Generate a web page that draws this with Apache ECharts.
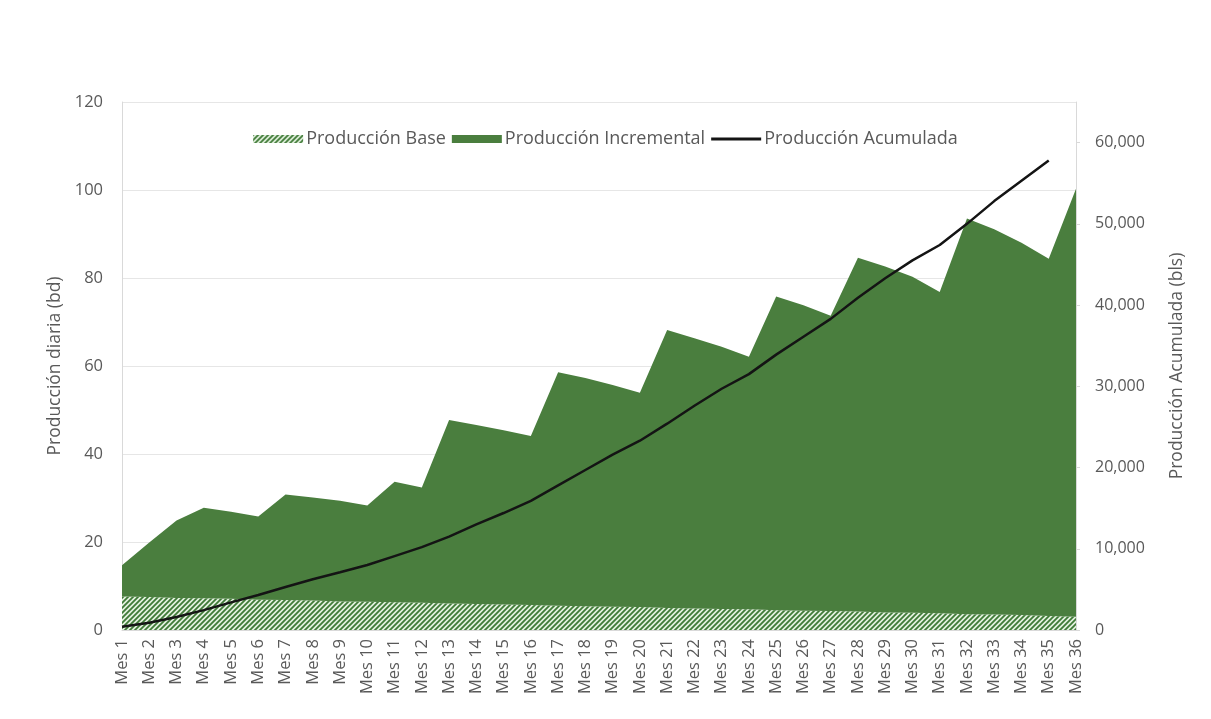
<!DOCTYPE html>
<html>
<head>
<meta charset="utf-8">
<title>Producción</title>
<script src="https://cdn.jsdelivr.net/npm/echarts@6/dist/echarts.min.js"></script>
<style>
  html, body { margin: 0; padding: 0; background: #ffffff; }
  #chart { width: 1211px; height: 719px; }
</style>
</head>
<body>
<div id="chart"></div>
<script>
// Month labels
const months = [];
for (let i = 1; i <= 36; i++) months.push('Mes ' + i);

// Base production (bd)
const baseProd = [7.6, 7.5, 7.3, 7.2, 7.1, 6.9, 6.8, 6.7, 6.5, 6.4, 6.3, 6.2,
  6.0, 5.9, 5.8, 5.7, 5.5, 5.4, 5.3, 5.2, 5.0, 4.9, 4.8, 4.7,
  4.5, 4.4, 4.3, 4.2, 4.0, 3.9, 3.8, 3.6, 3.5, 3.4, 3.2, 3.0];

// Incremental production (bd), stacked on top of the base
const incrProd = [7.1, 12.4, 17.6, 20.6, 19.8, 18.9, 24.0, 23.4, 22.9, 21.9, 27.4, 26.2,
  41.7, 40.7, 39.6, 38.4, 53.1, 51.9, 50.4, 48.7, 63.2, 61.4, 59.6, 57.4,
  71.3, 69.4, 67.1, 80.4, 78.6, 76.4, 73.0, 89.9, 87.6, 84.6, 81.2, 97.3];

// Cumulative production (bls), months 1 to 35
const cumProd = [400, 900, 1600, 2450, 3400, 4300, 5300, 6250, 7100, 8000, 9100, 10200,
  11500, 13000, 14400, 15900, 17800, 19700, 21600, 23300, 25400, 27600, 29700, 31500,
  33900, 36100, 38300, 40900, 43300, 45500, 47400, 50000, 52800, 55300, 57800];

// Diagonal hatch tile for the base area
function hatchPattern() {
  const c = document.createElement('canvas');
  const s = 5;
  c.width = s; c.height = s;
  const g = c.getContext('2d');
  g.fillStyle = '#e4f1df';
  g.fillRect(0, 0, s, s);
  g.strokeStyle = '#3f7a37';
  g.lineWidth = 1.8;
  g.beginPath();
  g.moveTo(-1, s + 1); g.lineTo(s + 1, -1);
  g.moveTo(-1, 1); g.lineTo(1, -1);
  g.moveTo(s - 1, s + 1); g.lineTo(s + 1, s - 1);
  g.stroke();
  return { image: c, repeat: 'repeat' };
}
const hatch = hatchPattern();
const green = '#4a7e3e';
const textColor = '#595959';
const fontFam = '"Open Sans", "Noto Sans", sans-serif';

// Thin horizontal bar centred in the legend box, used for the line entry
const lineIcon = 'path://M0,0L0.01,0M0,8L0.01,8M0,2.5L50,2.5L50,5.5L0,5.5Z';

const chart = echarts.init(document.getElementById('chart'), null, { renderer: 'canvas' });
chart.setOption({
  backgroundColor: '#ffffff',
  animation: false,
  textStyle: { fontFamily: fontFam, color: textColor },
  legend: {
    top: 125,
    left: 'center',
    itemWidth: 50,
    itemHeight: 8,
    itemGap: 6,
    textStyle: { fontFamily: fontFam, fontSize: 18, color: textColor, padding: [0, 0, 0, -2] },
    data: [
      { name: 'Producción Base', icon: 'rect', itemStyle: { color: hatch } },
      { name: 'Producción Incremental', icon: 'rect', itemStyle: { color: green } },
      { name: 'Producción Acumulada', icon: lineIcon, itemStyle: { color: '#141414' } }
    ]
  },
  grid: { left: 122, right: 135, top: 102, bottom: 89, containLabel: false },
  xAxis: {
    type: 'category',
    data: months,
    boundaryGap: false,
    axisLine: { show: true, lineStyle: { color: '#d9d9d9', width: 1 } },
    axisTick: { show: false },
    axisLabel: {
      interval: 0, rotate: 90, fontSize: 16.5, color: textColor,
      fontFamily: fontFam, margin: 9
    }
  },
  yAxis: [
    {
      type: 'value',
      min: 0, max: 120, interval: 20,
      name: 'Producción diaria (bd)',
      nameLocation: 'middle',
      nameRotate: 90,
      nameGap: 58,
      nameTextStyle: { fontSize: 17.5, color: textColor, fontFamily: fontFam },
      axisLine: { show: true, lineStyle: { color: '#d9d9d9' } },
      axisTick: { show: false },
      axisLabel: { fontSize: 16.5, color: textColor, margin: 19 },
      splitLine: { show: true, lineStyle: { color: '#e6e6e6', width: 1 } }
    },
    {
      type: 'value',
      min: 0, max: 65000, interval: 10000,
      name: 'Producción Acumulada (bls)',
      nameLocation: 'middle',
      nameRotate: 90,
      nameGap: 92,
      nameTextStyle: { fontSize: 17.5, color: textColor, fontFamily: fontFam },
      position: 'right',
      axisLine: { show: true, lineStyle: { color: '#d9d9d9' } },
      axisTick: { show: true, length: 4, lineStyle: { color: '#d9d9d9' } },
      axisLabel: {
        fontSize: 16, color: textColor, margin: 19, showMaxLabel: false,
        formatter: v => v.toLocaleString('en-US')
      },
      splitLine: { show: false }
    }
  ],
  series: [
    {
      name: 'Producción Base',
      type: 'line',
      stack: 'prod',
      data: baseProd,
      symbol: 'none',
      lineStyle: { width: 0 },
      itemStyle: { color: hatch },
      areaStyle: { color: hatch, opacity: 1 },
      z: 2
    },
    {
      name: 'Producción Incremental',
      type: 'line',
      stack: 'prod',
      data: incrProd,
      symbol: 'none',
      lineStyle: { width: 0 },
      itemStyle: { color: green },
      areaStyle: { color: green, opacity: 1 },
      z: 2
    },
    {
      name: 'Producción Acumulada',
      type: 'line',
      yAxisIndex: 1,
      data: cumProd,
      symbol: 'none',
      lineStyle: { color: '#141414', width: 2.5 },
      itemStyle: { color: '#141414' },
      z: 5
    }
  ]
});
</script>
</body>
</html>
